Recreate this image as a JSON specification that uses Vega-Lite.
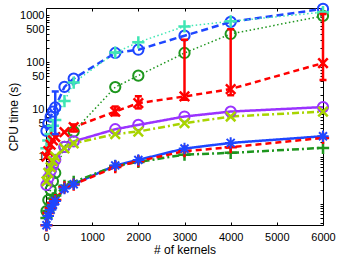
{
  "$schema": "https://vega.github.io/schema/vega-lite/v6.json",
  "width": 277,
  "height": 217,
  "autosize": "none",
  "padding": {"left": 46, "top": 8, "right": 17, "bottom": 31},
  "background": "white",
  "config": {
    "axis": {"labelFont": "Liberation Sans", "titleFont": "Liberation Sans", "labelFontSize": 11, "titleFontSize": 12, "titleFontWeight": "normal", "labelColor": "#000", "titleColor": "#000", "domainColor": "#000", "tickColor": "#000", "grid": false},
    "view": {"stroke": "#000"}
  },
  "datasets": {
    "pts": [
      {"s": "A", "x": 10, "y": 3.5}, {"s": "A", "x": 50, "y": 5}, {"s": "A", "x": 100, "y": 7}, {"s": "A", "x": 150, "y": 9}, {"s": "A", "x": 200, "y": 11}, {"s": "A", "x": 400, "y": 30}, {"s": "A", "x": 600, "y": 45}, {"s": "A", "x": 1500, "y": 157}, {"s": "A", "x": 2000, "y": 184}, {"s": "A", "x": 3000, "y": 365}, {"s": "A", "x": 4000, "y": 714}, {"s": "A", "x": 6000, "y": 1350},
      {"s": "B", "x": 10, "y": 1.5}, {"s": "B", "x": 50, "y": 2.2}, {"s": "B", "x": 100, "y": 3}, {"s": "B", "x": 150, "y": 4.5}, {"s": "B", "x": 200, "y": 6}, {"s": "B", "x": 400, "y": 15}, {"s": "B", "x": 600, "y": 37}, {"s": "B", "x": 1500, "y": 160}, {"s": "B", "x": 2000, "y": 265}, {"s": "B", "x": 3000, "y": 575}, {"s": "B", "x": 4000, "y": 735}, {"s": "B", "x": 6000, "y": 1150},
      {"s": "C", "x": 10, "y": 0.07}, {"s": "C", "x": 50, "y": 0.12}, {"s": "C", "x": 100, "y": 0.2}, {"s": "C", "x": 150, "y": 0.3}, {"s": "C", "x": 200, "y": 0.45}, {"s": "C", "x": 400, "y": 1.6}, {"s": "C", "x": 600, "y": 3.4}, {"s": "C", "x": 1500, "y": 29.7}, {"s": "C", "x": 2000, "y": 52}, {"s": "C", "x": 3000, "y": 157}, {"s": "C", "x": 4000, "y": 397}, {"s": "C", "x": 6000, "y": 960},
      {"s": "D", "x": 10, "y": 1.0}, {"s": "D", "x": 50, "y": 1.3}, {"s": "D", "x": 100, "y": 1.8}, {"s": "D", "x": 150, "y": 2.2}, {"s": "D", "x": 200, "y": 2.6}, {"s": "D", "x": 400, "y": 3.3}, {"s": "D", "x": 600, "y": 4.2}, {"s": "D", "x": 1500, "y": 9}, {"s": "D", "x": 2000, "y": 13.6}, {"s": "D", "x": 3000, "y": 18.8}, {"s": "D", "x": 4000, "y": 27}, {"s": "D", "x": 6000, "y": 96},
      {"s": "E", "x": 10, "y": 0.25}, {"s": "E", "x": 50, "y": 0.35}, {"s": "E", "x": 100, "y": 0.5}, {"s": "E", "x": 150, "y": 0.65}, {"s": "E", "x": 200, "y": 0.85}, {"s": "E", "x": 400, "y": 1.6}, {"s": "E", "x": 600, "y": 2.1}, {"s": "E", "x": 1500, "y": 3.8}, {"s": "E", "x": 2000, "y": 4.7}, {"s": "E", "x": 3000, "y": 7.07}, {"s": "E", "x": 4000, "y": 9.0}, {"s": "E", "x": 6000, "y": 11.2},
      {"s": "F", "x": 10, "y": 0.3}, {"s": "F", "x": 50, "y": 0.45}, {"s": "F", "x": 100, "y": 0.6}, {"s": "F", "x": 150, "y": 0.8}, {"s": "F", "x": 200, "y": 1.0}, {"s": "F", "x": 400, "y": 1.5}, {"s": "F", "x": 600, "y": 1.9}, {"s": "F", "x": 1500, "y": 3.0}, {"s": "F", "x": 2000, "y": 3.4}, {"s": "F", "x": 3000, "y": 5.1}, {"s": "F", "x": 4000, "y": 7.07}, {"s": "F", "x": 6000, "y": 9.0},
      {"s": "G", "x": 10, "y": 0.035}, {"s": "G", "x": 50, "y": 0.055}, {"s": "G", "x": 100, "y": 0.075}, {"s": "G", "x": 150, "y": 0.095}, {"s": "G", "x": 200, "y": 0.115}, {"s": "G", "x": 400, "y": 0.21}, {"s": "G", "x": 600, "y": 0.26}, {"s": "G", "x": 1500, "y": 0.65}, {"s": "G", "x": 2000, "y": 0.85}, {"s": "G", "x": 3000, "y": 1.48}, {"s": "G", "x": 4000, "y": 1.95}, {"s": "G", "x": 6000, "y": 2.7},
      {"s": "H", "x": 10, "y": 0.05}, {"s": "H", "x": 50, "y": 0.07}, {"s": "H", "x": 100, "y": 0.1}, {"s": "H", "x": 150, "y": 0.13}, {"s": "H", "x": 200, "y": 0.15}, {"s": "H", "x": 400, "y": 0.24}, {"s": "H", "x": 600, "y": 0.29}, {"s": "H", "x": 1500, "y": 0.63}, {"s": "H", "x": 2000, "y": 0.77}, {"s": "H", "x": 3000, "y": 1.1}, {"s": "H", "x": 4000, "y": 1.2}, {"s": "H", "x": 6000, "y": 1.53},
      {"s": "I", "x": 10, "y": 0.035}, {"s": "I", "x": 50, "y": 0.064}, {"s": "I", "x": 100, "y": 0.081}, {"s": "I", "x": 150, "y": 0.104}, {"s": "I", "x": 200, "y": 0.12}, {"s": "I", "x": 400, "y": 0.224}, {"s": "I", "x": 600, "y": 0.255}, {"s": "I", "x": 1500, "y": 0.6}, {"s": "I", "x": 2000, "y": 0.8}, {"s": "I", "x": 3000, "y": 1.3}, {"s": "I", "x": 4000, "y": 1.58}, {"s": "I", "x": 6000, "y": 2.49}
    ],
    "err": [
      {"s": "A", "x": 200, "lo": 3, "hi": 24},
      {"s": "D", "x": 600, "lo": 3.4, "hi": 4.8},
      {"s": "D", "x": 1500, "lo": 7.5, "hi": 11.5},
      {"s": "D", "x": 2000, "lo": 10.5, "hi": 19},
      {"s": "D", "x": 3000, "lo": 16, "hi": 300},
      {"s": "D", "x": 4000, "lo": 20, "hi": 500},
      {"s": "D", "x": 6000, "lo": 42, "hi": 1050}
    ]
  },
  "resolve": {"axis": {"x": "independent", "y": "independent"}},
  "layer": [
    {
      "data": {"name": "pts"},
      "transform": [{"filter": {"field": "s", "oneOf": ["A", "D", "E", "F", "G", "H", "I"]}}],
      "mark": {"type": "line", "strokeWidth": 2.5, "strokeCap": "butt"},
      "encoding": {
        "x": {"field": "x", "type": "quantitative", "scale": {"domain": [0, 6000], "nice": false},
              "axis": {"orient": "bottom", "values": [0, 1000, 2000, 3000, 4000, 5000, 6000], "format": "d", "tickSize": -3, "labelPadding": 9, "labelFlush": false, "labelOverlap": false, "title": "# of kernels", "titlePadding": 2, "domain": false}},
        "y": {"field": "y", "type": "quantitative", "scale": {"type": "log", "domain": [0.0355, 1410], "nice": false},
              "axis": {"orient": "left", "values": [0.04,0.05,0.06,0.07,0.08,0.09,0.1,0.2,0.3,0.4,0.5,0.6,0.7,0.8,0.9,1,2,3,4,5,6,7,8,9,10,20,30,40,50,60,70,80,90,100,200,300,400,500,600,700,800,900,1000],
                       "labelExpr": "indexof([1,5,10,50,100,500,1000], datum.value) >= 0 ? datum.label : ''", "format": "~g", "tickSize": -3, "labelPadding": 5, "labelFlush": false, "labelOverlap": false, "title": "CPU time (s)", "titlePadding": -1, "domain": false}},
        "color": {"field": "s", "type": "nominal", "legend": null, "scale": {"domain": ["A","B","C","D","E","F","G","H","I"], "range": ["#1e46ff","#40e6b4","#1e961e","#ff0000","#9a33ff","#a8d400","#1e46ff","#1e961e","#ff0000"]}},
        "strokeDash": {"field": "s", "type": "nominal", "legend": null, "scale": {"domain": ["A","B","C","D","E","F","G","H","I"], "range": [[7,4],[1.5,2.5],[1.5,2.5],[6,4],[1,0],[7,3,2,3],[1,0],[7,3,2,3],[6,4]]}}
      }
    },
    {
      "data": {"name": "pts"},
      "transform": [{"filter": {"field": "s", "oneOf": ["B", "C"]}}],
      "mark": {"type": "line", "strokeWidth": 1.5},
      "encoding": {
        "x": {"field": "x", "type": "quantitative", "axis": null},
        "y": {"field": "y", "type": "quantitative", "axis": null},
        "color": {"field": "s", "type": "nominal", "legend": null},
        "strokeDash": {"field": "s", "type": "nominal", "legend": null}
      }
    },
    {
      "data": {"name": "pts"},
      "transform": [{"filter": {"field": "s", "oneOf": ["A", "C", "E"]}}],
      "mark": {"type": "point", "shape": "circle", "filled": false, "size": 105, "strokeWidth": 2, "opacity": 1},
      "encoding": {
        "x": {"field": "x", "type": "quantitative", "axis": null},
        "y": {"field": "y", "type": "quantitative", "axis": null},
        "color": {"field": "s", "type": "nominal", "legend": null}
      }
    },
    {
      "data": {"name": "pts"},
      "transform": [{"filter": {"field": "s", "oneOf": ["B", "H", "I"]}}],
      "mark": {"type": "point", "shape": "M-1,0L1,0M0,-1L0,1", "filled": false, "size": 150, "strokeWidth": 2.5, "opacity": 1},
      "encoding": {
        "x": {"field": "x", "type": "quantitative", "axis": null},
        "y": {"field": "y", "type": "quantitative", "axis": null},
        "color": {"field": "s", "type": "nominal", "legend": null}
      }
    },
    {
      "data": {"name": "pts"},
      "transform": [{"filter": {"field": "s", "oneOf": ["D", "F"]}}],
      "mark": {"type": "point", "shape": "M-1,-1L1,1M-1,1L1,-1", "filled": false, "size": 90, "strokeWidth": 2.5, "opacity": 1},
      "encoding": {
        "x": {"field": "x", "type": "quantitative", "axis": null},
        "y": {"field": "y", "type": "quantitative", "axis": null},
        "color": {"field": "s", "type": "nominal", "legend": null}
      }
    },
    {
      "data": {"name": "pts"},
      "transform": [{"filter": {"field": "s", "equal": "G"}}],
      "mark": {"type": "point", "shape": "M-1,0L1,0M0,-1L0,1M-0.7,-0.7L0.7,0.7M-0.7,0.7L0.7,-0.7", "filled": false, "size": 130, "strokeWidth": 2, "opacity": 1},
      "encoding": {
        "x": {"field": "x", "type": "quantitative", "axis": null},
        "y": {"field": "y", "type": "quantitative", "axis": null},
        "color": {"field": "s", "type": "nominal", "legend": null}
      }
    },
    {
      "data": {"name": "err"},
      "mark": {"type": "rule", "strokeWidth": 2.5},
      "encoding": {
        "x": {"field": "x", "type": "quantitative", "axis": null},
        "y": {"field": "lo", "type": "quantitative", "axis": null},
        "y2": {"field": "hi"},
        "color": {"field": "s", "type": "nominal", "legend": null}
      }
    },
    {
      "data": {"name": "err"},
      "mark": {"type": "point", "shape": "M-1,0L1,0", "filled": false, "size": 49, "strokeWidth": 2.5, "opacity": 1},
      "encoding": {
        "x": {"field": "x", "type": "quantitative", "axis": null},
        "y": {"field": "lo", "type": "quantitative", "axis": null},
        "color": {"field": "s", "type": "nominal", "legend": null}
      }
    },
    {
      "data": {"name": "err"},
      "mark": {"type": "point", "shape": "M-1,0L1,0", "filled": false, "size": 49, "strokeWidth": 2.5, "opacity": 1},
      "encoding": {
        "x": {"field": "x", "type": "quantitative", "axis": {"orient": "top", "values": [0, 1000, 2000, 3000, 4000, 5000, 6000], "tickSize": -3, "labels": false, "title": null, "domain": false}},
        "y": {"field": "hi", "type": "quantitative", "axis": {"orient": "right", "values": [0.04,0.05,0.06,0.07,0.08,0.09,0.1,0.2,0.3,0.4,0.5,0.6,0.7,0.8,0.9,1,2,3,4,5,6,7,8,9,10,20,30,40,50,60,70,80,90,100,200,300,400,500,600,700,800,900,1000], "tickSize": -3, "labels": false, "title": null, "domain": false}},
        "color": {"field": "s", "type": "nominal", "legend": null}
      }
    }
  ]
}
